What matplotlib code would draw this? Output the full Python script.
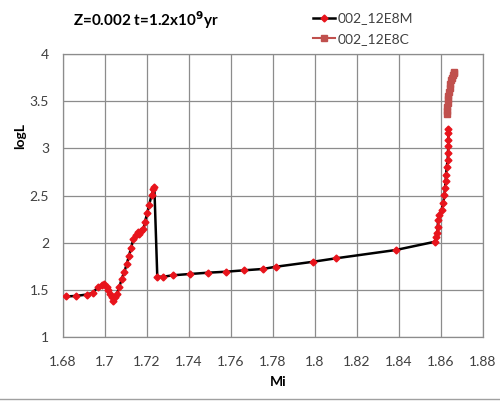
import matplotlib.pyplot as plt
from matplotlib.lines import Line2D

# series 002_12E8M (black line, red markers)
mi_m = [1.6814, 1.686, 1.6913, 1.6944, 1.6965, 1.6984, 1.6996, 1.7008, 1.7016, 1.7024, 1.7032,
        1.704, 1.7048, 1.7056, 1.7068, 1.708, 1.7092, 1.7103, 1.7114, 1.7124, 1.7135, 1.7148,
        1.7155, 1.7163, 1.717, 1.7183, 1.719, 1.7201, 1.721, 1.7222, 1.723, 1.7235,
        1.7249, 1.7278, 1.7322, 1.7405, 1.7492, 1.7576, 1.7662, 1.7751, 1.7814, 1.7992,
        1.8099, 1.8384, 1.8571, 1.8576, 1.8583, 1.8584, 1.8587, 1.859, 1.8603, 1.8611,
        1.8616, 1.8619, 1.8622, 1.8624, 1.8627, 1.8632, 1.8633, 1.8635, 1.8635, 1.8635, 1.8635]
logl_m = [1.43, 1.435, 1.45, 1.47, 1.53, 1.55, 1.56, 1.53, 1.50, 1.46, 1.42,
          1.385, 1.42, 1.456, 1.527, 1.62, 1.69, 1.77, 1.86, 1.94, 2.04, 2.08,
          2.11, 2.09, 2.12, 2.14, 2.22, 2.31, 2.40, 2.505, 2.57, 2.59,
          1.639, 1.639, 1.654, 1.668, 1.682, 1.692, 1.707, 1.721, 1.745, 1.798,
          1.834, 1.922, 2.01, 2.06, 2.10, 2.17, 2.24, 2.29, 2.35, 2.42,
          2.505, 2.58, 2.65, 2.72, 2.805, 2.876, 2.95, 3.02, 3.09, 3.16, 3.21]

# series 002_12E8C (squares)
mi_c = [1.8628, 1.8629, 1.863, 1.8631, 1.8633, 1.8635, 1.8638, 1.8641, 1.8645, 1.8649,
        1.8653, 1.8657, 1.8661, 1.8664]
logl_c = [3.36, 3.40, 3.44, 3.48, 3.52, 3.56, 3.60, 3.64, 3.68, 3.72, 3.75, 3.78, 3.80, 3.81]

xticks = [1.68, 1.7, 1.72, 1.74, 1.76, 1.78, 1.8, 1.82, 1.84, 1.86, 1.88]
xtick_labels = ["1.68", "1.7", "1.72", "1.74", "1.76", "1.78", "1.8", "1.82", "1.84", "1.86", "1.88"]
yticks = [1, 1.5, 2, 2.5, 3, 3.5, 4]
ytick_labels = ["1", "1.5", "2", "2.5", "3", "3.5", "4"]

plt.rcParams['font.family'] = ['Lato', 'DejaVu Sans']

fig = plt.figure(figsize=(5.0, 4.01), dpi=100)
ax = fig.add_axes([0.126, 0.1596, 0.84, 0.7057])

ax.plot(mi_m, logl_m, color="black", lw=1.8, marker="D", ms=3.5,
        mfc="#e8141c", mec="#e8141c", zorder=3)
ax.plot(mi_c, logl_c, color="#c0504d", lw=1.5, marker="s", ms=5,
        mfc="#c0504d", mec="#c0504d", zorder=4)

ax.set_xlim(1.68, 1.88)
ax.set_ylim(1, 4)
ax.set_xticks(xticks)
ax.set_xticklabels(xtick_labels)
ax.set_yticks(yticks)
ax.set_yticklabels(ytick_labels)
ax.tick_params(length=0, labelsize=10, colors="#404040", pad=14)
ax.tick_params(axis="y", pad=10)
ax.grid(True, color="#8c8c8c", lw=0.9)
for s in ax.spines.values():
    s.set_color("#8c8c8c")
    s.set_linewidth(0.9)

fig.text(0.556, 0.048, "Mi", ha="center", va="center", fontsize=10, fontweight="bold")
fig.text(0.04, 0.66, "logL", ha="center", va="center", rotation=90, fontsize=10, fontweight="bold")
fig.text(0.146, 0.95, r"Z=0.002 t=1.2x10$^{\mathbf{9}}$yr", ha="left", va="center",
         fontsize=11, fontweight="bold")

handles = [Line2D([], [], color="black", lw=1.8, marker="D", ms=3.5, mfc="#e8141c", mec="#e8141c"),
           Line2D([], [], color="#c0504d", lw=1.5, marker="s", ms=5, mfc="#c0504d", mec="#c0504d")]
fig.legend(handles, ["002_12E8M", "002_12E8C"], loc="upper left", bbox_to_anchor=(0.6, 1.0),
           frameon=False, fontsize=10, handlelength=1.6, handletextpad=0.2, labelspacing=0.6,
           labelcolor="#404040")

fig.add_artist(Line2D([0, 1], [0.006, 0.006], color="#a0a0a0", lw=1))

fig.savefig("out.png", dpi=100)
